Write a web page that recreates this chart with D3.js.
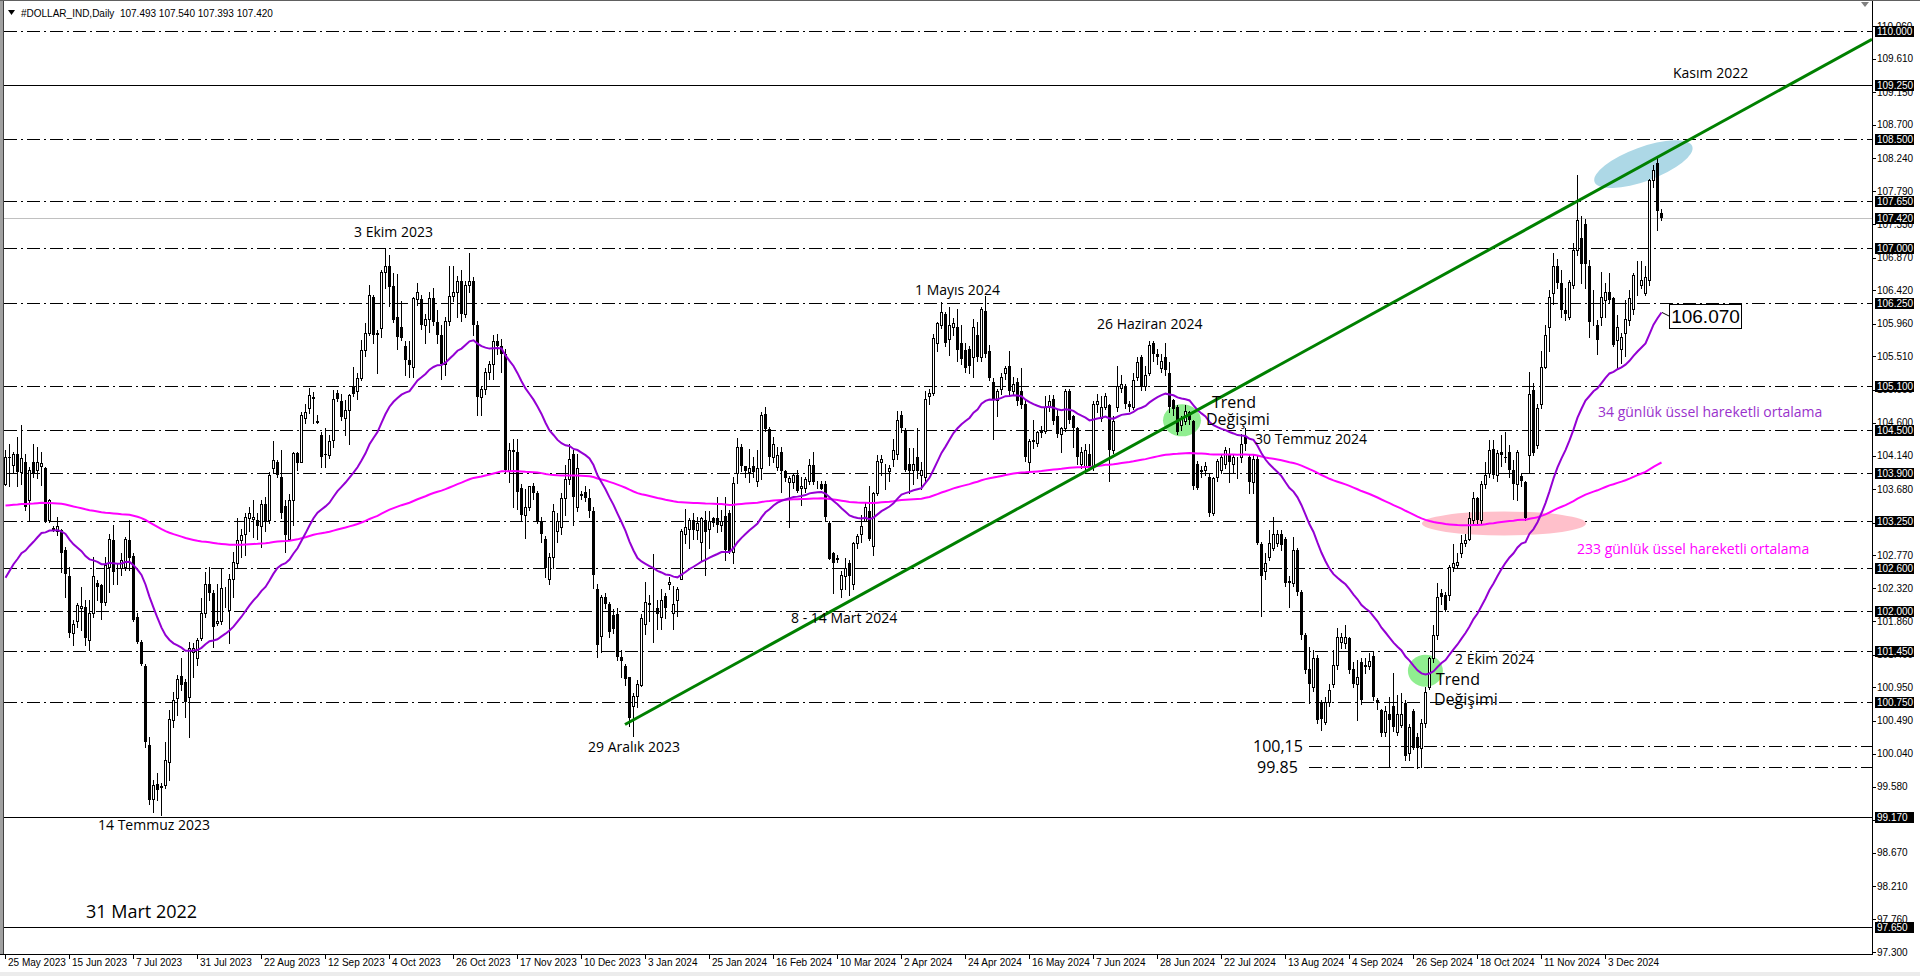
<!DOCTYPE html>
<html><head><meta charset="utf-8">
<script src="https://cdn.jsdelivr.net/npm/d3@7"></script>
<style>html,body{margin:0;padding:0;background:#fff;overflow:hidden}svg{display:block}</style>
</head><body>
<svg id="c" width="1920" height="976"></svg>
<script>
// ---------- DATA ----------
const headerText = "#DOLLAR_IND,Daily  107.493 107.540 107.393 107.420";
// daily candles [open, high, low, close], bar 0 = 24/25 May 2023 ... bar 414 = 23 Dec 2024
const ohlc = [
[103.76,104.22,103.74,104.13],[104.12,104.31,103.72,104.11],[104.02,104.20,103.92,104.17],[104.17,104.40,103.72,103.92],[103.92,104.57,103.76,104.11],
[104.06,104.17,103.39,103.44],[103.53,103.99,103.26,103.95],[104.06,104.31,103.85,103.90],[103.95,104.27,103.83,104.05],[104.00,104.20,103.74,104.04],
[103.97,103.99,103.23,103.23],[103.26,103.54,103.23,103.53],[103.13,103.18,103.10,103.15],[103.10,103.30,103.05,103.17],[103.12,103.14,102.54,102.80],
[102.84,102.89,102.20,102.52],[102.48,102.61,101.65,101.70],[101.70,101.88,101.53,101.83],[101.86,102.11,101.79,102.09],[102.04,102.34,101.74,102.07],
[102.06,102.15,101.53,101.63],[101.60,102.15,101.47,101.97],[101.97,102.75,101.92,102.48],[102.39,102.43,102.15,102.34],[102.36,102.38,101.90,102.11],
[102.13,102.75,102.09,102.64],[102.61,103.07,102.27,102.99],[102.98,103.19,102.38,102.54],[102.60,102.66,102.38,102.59],[102.59,102.80,102.50,102.70],
[102.61,103.03,102.57,102.99],[102.98,103.26,102.57,102.73],[102.76,102.80,101.86,101.88],[101.92,101.97,101.56,101.58],[101.58,101.60,101.26,101.28],
[101.25,101.28,100.13,100.20],[100.16,100.27,99.35,99.40],[99.42,99.67,99.24,99.60],[99.62,99.77,99.40,99.54],[99.58,99.63,99.19,99.59],
[99.60,100.20,99.56,99.95],[99.93,100.64,99.67,100.52],[100.50,100.89,100.41,100.78],[100.80,101.12,100.57,101.07],[101.11,101.35,100.91,100.98],
[101.03,101.07,100.55,100.75],[100.82,101.58,100.27,101.49],[101.44,101.56,101.10,101.49],[101.35,101.63,101.26,101.60],[101.63,102.18,101.60,101.97],
[101.97,102.54,101.92,102.38],[102.38,102.61,102.15,102.25],[102.25,102.29,101.51,101.79],[101.84,102.38,101.81,101.86],[101.86,102.59,101.83,102.32],
[102.30,102.34,102.06,102.31],[102.02,102.52,101.56,102.44],[102.45,102.82,102.20,102.68],[102.66,103.28,102.61,102.98],[102.98,103.14,102.75,103.05],
[103.07,103.35,102.77,103.30],[103.28,103.44,103.10,103.35],[103.27,103.53,103.03,103.30],[103.26,103.35,103.00,103.17],[103.17,103.53,102.89,103.48],
[103.48,103.58,103.10,103.23],[103.26,103.92,103.21,103.88],[103.97,104.34,103.90,104.09],[104.06,104.08,103.85,103.88],[103.85,104.22,103.28,103.35],
[103.45,103.53,102.82,103.05],[103.00,103.62,102.98,103.53],[103.53,104.20,103.19,104.18],[104.18,104.20,103.95,104.04],[104.06,104.75,104.06,104.70],
[104.66,104.86,104.59,104.75],[104.80,105.07,104.73,104.98],[104.95,105.02,104.59,104.93],[104.62,104.71,104.59,104.60],[104.43,104.47,103.99,104.13],
[104.17,104.52,103.99,104.15],[104.15,104.43,104.11,104.34],[104.36,105.05,104.27,104.93],[105.01,105.05,104.90,104.93],[104.89,105.00,104.64,104.68],
[104.66,104.91,104.43,104.77],[104.77,105.00,104.31,104.98],[105.09,105.37,104.96,105.00],[105.03,105.28,104.93,105.22],[105.21,105.74,105.19,105.60],
[105.60,105.97,105.51,105.83],[105.83,106.49,105.81,106.36],[106.33,106.36,105.69,105.81],[105.83,105.88,105.28,105.81],[105.90,106.70,105.78,106.68],
[106.68,107.00,106.45,106.75],[106.76,106.91,106.20,106.47],[106.48,106.66,105.99,106.01],[106.06,106.65,105.62,105.78],[105.92,106.27,105.74,105.76],
[105.65,105.72,105.26,105.46],[105.46,105.72,105.23,105.39],[105.37,106.33,105.23,106.31],[106.30,106.52,106.22,106.40],[106.30,106.36,105.89,105.94],
[105.94,106.10,105.70,106.02],[106.02,106.40,105.85,106.31],[106.31,106.45,105.95,105.98],[105.98,106.15,105.70,105.80],[105.80,105.95,105.20,105.40],
[105.40,106.05,105.25,106.00],[106.00,106.75,105.95,106.35],[106.35,106.75,106.28,106.40],[106.40,106.62,106.05,106.55],[106.55,106.70,106.00,106.10],
[106.10,106.55,106.05,106.50],[106.50,106.93,106.40,106.55],[106.55,106.60,105.80,105.95],[105.95,106.00,104.70,104.95],[104.95,105.10,104.70,105.06],
[105.06,105.35,105.00,105.30],[105.30,105.45,105.20,105.40],[105.40,105.80,105.20,105.72],[105.72,105.82,105.55,105.65],[105.65,105.75,105.30,105.55],
[105.55,105.62,103.90,103.94],[103.93,104.32,103.78,104.22],[104.22,104.37,103.43,104.20],[104.20,104.37,103.41,103.65],[103.70,103.75,103.24,103.33],
[103.33,103.68,103.01,103.43],[103.43,103.73,103.40,103.73],[103.73,103.77,103.55,103.63],[103.63,103.66,103.22,103.24],[103.24,103.30,102.95,103.06],
[102.99,103.04,102.47,102.60],[102.45,102.80,102.37,102.75],[102.75,103.48,102.60,103.38],[103.10,103.35,102.95,103.24],[103.16,103.63,103.07,103.56],
[103.56,104.02,103.33,103.82],[103.82,104.30,103.75,104.10],[104.17,104.22,103.19,103.58],[103.43,104.17,103.38,103.97],[103.60,103.66,103.55,103.61],
[103.65,103.73,103.52,103.56],[103.56,103.68,103.30,103.38],[103.38,103.43,102.32,102.50],[102.30,102.38,101.37,101.54],[101.66,102.23,101.44,102.20],
[102.20,102.25,102.05,102.10],[102.10,102.13,101.64,101.71],[101.95,102.03,101.70,101.76],[101.96,102.04,101.33,101.37],[101.37,101.47,101.10,101.32],
[101.24,101.27,100.98,101.07],[101.09,101.09,100.42,100.53],[100.70,100.88,100.28,100.83],[100.83,101.05,100.68,101.00],[100.98,101.96,100.97,101.91],
[101.82,102.40,101.68,102.13],[102.10,102.22,101.86,102.12],[102.10,102.79,101.57,102.10],[102.05,102.16,101.76,101.96],[101.92,102.30,101.76,102.16],
[102.21,102.25,101.91,102.04],[102.38,102.47,102.30,102.40],[101.98,102.35,101.76,102.10],[102.15,102.33,101.94,102.30],[102.45,103.14,102.45,103.11],
[103.07,103.41,102.94,103.16],[103.14,103.28,102.87,103.26],[103.26,103.36,102.99,103.12],[103.12,103.30,103.00,103.22],[102.96,103.30,102.71,103.28],
[103.26,103.38,102.50,103.09],[103.14,103.38,102.87,103.24],[103.29,103.30,103.17,103.21],[103.28,103.58,103.09,103.19],[103.19,103.40,103.10,103.25],
[103.31,103.58,102.70,102.84],[103.36,103.40,102.80,102.82],[102.81,103.85,102.67,103.77],[103.90,104.39,103.77,104.27],[104.27,104.30,103.93,104.00],
[104.00,104.00,103.85,103.93],[103.92,104.24,103.78,103.97],[104.00,104.12,103.85,103.92],[103.80,104.22,103.73,103.97],[103.98,104.74,103.82,104.71],
[104.72,104.82,104.48,104.51],[104.51,104.54,104.02,104.12],[104.12,104.40,104.05,104.30],[103.99,104.27,103.95,104.15],[104.20,104.27,103.65,103.93],
[103.93,103.95,103.80,103.83],[103.78,103.86,103.16,103.83],[103.78,103.90,103.70,103.88],[103.88,103.95,103.65,103.66],[103.70,103.85,103.47,103.72],
[103.70,103.85,103.65,103.82],[103.80,104.10,103.75,104.02],[104.02,104.20,103.75,103.78],[103.73,103.80,103.70,103.73],[103.76,103.80,103.68,103.68],
[103.76,103.80,103.24,103.30],[103.21,103.24,102.72,102.72],[102.80,102.82,102.25,102.66],[102.72,102.78,102.68,102.74],[102.30,102.55,102.20,102.50],
[102.48,102.74,102.30,102.59],[102.66,102.70,102.22,102.49],[102.38,102.96,102.30,102.94],[102.94,103.06,102.87,103.04],[103.06,103.33,102.95,103.18],
[103.24,103.51,103.24,103.43],[103.38,103.73,102.98,102.99],[102.90,103.65,102.77,103.63],[103.63,104.15,103.60,104.07],[104.05,104.15,103.88,104.10],
[103.93,104.03,103.68,103.93],[103.93,104.02,103.80,103.98],[104.10,104.37,104.00,104.22],[104.17,104.76,104.10,104.63],[104.71,104.76,104.47,104.52],
[104.50,104.52,103.93,103.95],[104.03,104.25,103.63,103.93],[103.95,104.25,103.75,104.03],[104.12,104.52,103.83,103.93],[103.88,104.05,103.68,103.95],
[103.85,105.03,103.80,104.93],[104.96,105.06,104.86,105.01],[105.01,105.82,104.98,105.77],[105.70,105.99,105.58,105.97],[105.94,106.26,105.90,106.12],
[106.09,106.12,105.65,105.70],[105.75,106.19,105.53,105.94],[105.92,106.04,105.80,105.97],[105.92,106.17,105.45,105.60],[105.70,105.95,105.40,105.48],
[105.60,105.70,105.30,105.35],[105.62,105.65,105.28,105.38],[105.50,106.02,105.23,105.92],[105.80,105.99,105.45,105.50],[105.50,106.19,105.45,106.17],
[106.14,106.34,105.50,105.55],[105.58,105.67,105.18,105.21],[105.16,105.21,104.37,104.91],[104.91,105.06,104.69,105.03],[105.06,105.28,105.00,105.23],
[105.28,105.38,105.20,105.35],[105.38,105.58,104.98,105.03],[105.03,105.23,104.98,105.13],[105.16,105.21,104.84,104.89],[105.03,105.35,104.80,104.84],
[104.86,104.91,104.07,104.12],[104.05,104.37,103.93,104.34],[104.34,104.64,104.25,104.36],[104.32,104.49,104.28,104.47],[104.47,104.55,104.40,104.49],
[104.49,104.96,104.45,104.81],[104.81,104.98,104.76,104.89],[104.93,104.98,104.58,104.62],[104.69,104.79,104.40,104.44],[104.44,104.54,104.20,104.52],
[104.52,105.06,104.48,105.03],[105.03,105.06,104.60,104.64],[104.69,104.71,104.27,104.52],[104.52,104.54,104.03,104.12],[104.03,104.27,103.98,104.20],
[104.00,104.30,103.95,104.22],[104.17,104.30,103.95,104.00],[104.00,104.89,103.95,104.86],[104.86,105.00,104.75,104.90],[104.66,104.96,104.62,104.81],
[104.81,105.01,104.78,104.96],[104.84,104.86,103.80,104.22],[104.22,104.69,104.18,104.62],[104.81,105.38,104.76,105.11],[105.08,105.25,105.02,105.13],
[105.11,105.13,104.80,104.86],[104.86,104.89,104.76,104.81],[104.81,105.28,104.78,105.18],[105.23,105.50,105.18,105.43],[105.50,105.53,105.05,105.11],
[105.11,105.38,105.05,105.25],[105.28,105.72,105.25,105.67],[105.70,105.72,105.45,105.55],[105.55,105.62,105.40,105.50],[105.35,105.55,105.30,105.45],
[105.50,105.70,105.25,105.33],[105.28,105.43,104.74,104.81],[104.91,104.93,104.70,104.79],[104.81,104.84,104.44,104.47],[104.57,104.69,104.50,104.66],
[104.62,104.84,104.58,104.76],[104.74,104.76,104.58,104.64],[104.62,104.64,103.68,103.73],[104.03,104.07,103.68,103.70],[103.93,104.00,103.85,103.95],
[103.95,104.05,103.88,104.00],[103.85,103.90,103.31,103.36],[103.36,103.85,103.33,103.83],[103.85,104.10,103.80,104.07],[103.95,104.17,103.90,104.12],
[104.03,104.27,103.98,104.22],[104.15,104.25,103.78,104.05],[104.03,104.17,103.90,104.12],[104.05,104.12,103.83,104.06],[104.12,104.44,104.05,104.30],
[104.40,104.52,104.22,104.30],[104.12,104.15,103.63,103.78],[103.78,104.15,103.63,104.10],[104.10,104.15,102.92,102.94],[102.92,102.95,101.93,102.48],
[102.55,102.80,102.45,102.66],[102.75,103.12,102.70,102.94],[102.87,103.30,102.85,103.07],[102.94,103.12,102.90,103.07],[103.07,103.12,102.85,102.91],
[103.00,103.02,102.35,102.39],[102.42,102.48,102.06,102.39],[102.39,103.02,102.35,102.84],[102.84,102.87,102.22,102.27],[102.27,102.29,101.62,101.67],
[101.67,101.70,101.15,101.19],[101.21,101.51,100.73,101.00],[100.96,101.47,100.90,101.35],[101.35,101.40,100.46,100.50],[100.73,100.78,100.36,100.52],
[100.48,100.82,100.45,100.75],[100.75,101.00,100.70,100.91],[101.00,101.47,100.95,101.26],[101.26,101.77,101.20,101.65],[101.58,101.70,101.50,101.65],
[101.56,101.81,101.50,101.65],[101.63,101.65,101.15,101.19],[101.21,101.30,100.95,101.00],[101.00,101.33,100.50,101.10],[101.30,101.35,100.72,100.78],
[101.24,101.35,101.15,101.26],[101.24,101.42,101.20,101.31],[101.38,101.44,100.78,100.82],[100.78,100.80,100.65,100.73],[100.64,100.66,100.28,100.32],
[100.34,100.69,100.28,100.62],[100.59,100.82,99.86,100.50],[100.69,101.15,100.35,100.41],[100.34,100.85,100.30,100.59],[100.43,100.87,100.40,100.59],
[100.73,100.78,99.95,100.00],[100.05,100.45,99.95,100.40],[100.62,100.65,100.10,100.11],[100.27,100.32,99.84,100.11],[100.11,100.52,99.86,100.46],
[100.46,100.96,100.40,100.89],[100.96,101.37,100.93,101.35],[101.35,101.81,101.30,101.67],[101.67,102.39,101.62,102.20],[102.25,102.30,102.10,102.20],
[102.22,102.27,102.00,102.02],[102.22,102.64,102.15,102.61],[102.61,102.93,102.55,102.66],[102.64,102.80,102.60,102.68],[102.80,103.05,102.75,102.94],
[102.94,103.07,102.90,102.98],[103.00,103.37,102.98,103.28],[103.26,103.65,103.22,103.56],[103.56,103.58,103.22,103.26],[103.26,103.79,103.22,103.76],
[103.76,104.06,103.70,103.88],[103.90,104.36,103.85,104.22],[104.24,104.36,103.83,103.88],[103.88,104.22,103.80,104.18],[104.20,104.43,104.00,104.15],
[104.13,104.47,104.05,104.11],[104.20,104.29,103.85,103.94],[103.94,104.08,103.55,103.76],[103.76,104.22,103.53,104.20],[103.86,103.90,103.72,103.80],
[103.78,103.80,103.26,103.28],[104.15,105.30,103.92,105.00],[105.05,105.14,104.15,104.18],[104.29,104.86,104.25,104.80],[104.86,105.58,104.80,105.37],
[105.37,105.94,105.35,105.80],[105.92,106.43,105.58,106.33],[106.38,106.93,106.24,106.75],[106.75,106.86,106.45,106.52],[106.52,106.70,106.06,106.15],
[106.15,106.45,106.01,106.10],[106.06,106.56,106.03,106.54],[106.50,107.07,106.45,106.98],[106.98,108.01,106.91,107.39],[107.14,107.44,106.52,106.79],
[107.34,107.41,106.45,106.79],[106.75,106.84,105.78,105.99],[106.10,106.43,105.95,106.10],[105.94,106.01,105.55,105.74],[106.06,106.68,105.95,106.33],
[106.29,106.52,106.06,106.40],[106.40,106.66,106.25,106.29],[106.31,106.33,105.65,105.67],[105.74,106.08,105.35,105.92],[105.62,105.83,105.42,105.78],
[105.83,106.29,105.51,106.03],[106.01,106.43,105.95,106.31],[106.17,106.66,106.10,106.63],[106.59,106.82,106.36,106.59],[106.50,106.82,106.45,106.56],
[106.38,106.75,106.36,106.61],[106.56,107.96,106.50,107.94],[107.94,108.15,107.85,108.08],[108.17,108.24,107.25,107.51],[107.493,107.540,107.393,107.420]
];
// moving-average settings (periods + starting values read at the left edge)
const emaPeriods = [34, 233];
const emaSeeds = [102.36, 103.45];
const emaColors = ["#9400D3", "#FF00FF"];

// x-axis ticks (bar index of each label)
const tickBars = [0,16,32,48,64,80,96,112,128,144,160,176,192,208,224,240,256,272,288,304,320,336,352,368,384,400];
const tickLabels = ["25 May 2023","15 Jun 2023","7 Jul 2023","31 Jul 2023","22 Aug 2023","12 Sep 2023","4 Oct 2023","26 Oct 2023","17 Nov 2023","10 Dec 2023","3 Jan 2024","25 Jan 2024","16 Feb 2024","10 Mar 2024","2 Apr 2024","24 Apr 2024","16 May 2024","7 Jun 2024","28 Jun 2024","22 Jul 2024","13 Aug 2024","4 Sep 2024","26 Sep 2024","18 Oct 2024","11 Nov 2024","3 Dec 2024"];
// price-scale labels
const gridPrices = [110.060,109.610,109.150,108.700,108.240,107.790,107.330,106.870,106.420,105.960,105.510,105.050,104.600,104.140,103.680,103.220,102.770,102.320,101.860,101.400,100.950,100.490,100.040,99.580,99.130,98.670,98.210,97.760,97.300];
const boxPrices = [110.000,109.250,108.500,107.650,107.420,107.000,106.250,105.100,104.500,103.900,103.250,102.600,102.000,101.450,100.750,99.170,97.650];
// horizontal levels
const dashDotLevels = [110.0,108.5,107.65,107.0,106.25,105.1,104.5,103.9,103.25,102.6,102.0,101.45,100.75];
const solidLevels = [109.25,99.17,97.65];
const bidLevel = 107.42;
const shortLevels = [100.15, 99.85];
const shortLevelStartBar = 326;
// trend line anchors
const trendBars = [155, 466.75];
const trendPrices = [100.44, 109.88];
// highlight ellipses [bar, price, rx, ry, angle, colour]
const ellipses = [
  [374.75, 103.21, 82, 12, 0, "#FFC0CB"],
  [409.6, 108.16, 52, 17, -20, "#ADD8E6"],
  [294.25, 104.63, 19, 16, 0, "#90EE90"],
  [355.1, 101.18, 17.5, 16, 0, "#90EE90"]
];
// annotations [text, bar, price, size, colour]
const notes = [
  ["Kasım 2022", 417.0, 109.42, 14, "#000"],
  ["3 Ekim 2023", 87.25, 107.22, 14, "#000"],
  ["1 Mayıs 2024", 227.5, 106.42, 14, "#000"],
  ["26 Haziran 2024", 273.0, 105.96, 14, "#000"],
  ["Trend", 301.75, 104.88, 16, "#000"],
  ["Değişimi", 300.25, 104.65, 16, "#000"],
  ["30 Temmuz 2024", 312.5, 104.37, 14, "#000"],
  ["8 - 14 Mart 2024", 196.5, 101.91, 14, "#000"],
  ["29 Aralık 2023", 145.75, 100.13, 14, "#000"],
  ["14 Temmuz 2023", 23.25, 99.05, 14, "#000"],
  ["31 Mart 2022", 20.25, 97.86, 18, "#000"],
  ["100,15", 312.0, 100.14, 16, "#000"],
  ["99.85", 313.0, 99.85, 16, "#000"],
  ["2 Ekim 2024", 362.5, 101.34, 14, "#000"],
  ["Trend", 357.75, 101.06, 16, "#000"],
  ["Değişimi", 357.25, 100.79, 16, "#000"],
  ["34 günlük üssel hareketli ortalama", 398.25, 104.75, 14, "#9932CC"],
  ["233 günlük üssel hareketli ortalama", 393.0, 102.86, 14, "#FF00FF"]
];
const emaLabel = "106.070";

// ---------- CHART ----------
const W = 1920, H = 976;
const plotL = 4, plotR = 1872, plotT = 1, plotB = 954;
const svg = d3.select("#c");
const x = d3.scaleLinear().domain([0, 414]).range([5, 1661]);
const y = d3.scaleLinear().domain([97.65, 110]).range([927, 30.6]);
const ry = p => Math.round(y(p)) + 0.5;

svg.append("rect").attr("width", W).attr("height", H).attr("fill", "#fff");
svg.append("defs").append("clipPath").attr("id", "clip")
  .append("rect").attr("x", plotL).attr("y", plotT).attr("width", plotR - plotL).attr("height", plotB - plotT);

// levels
const lv = svg.append("g").attr("shape-rendering", "crispEdges");
lv.selectAll(".dd").data(dashDotLevels).join("line")
  .attr("x1", plotL).attr("x2", plotR).attr("y1", ry).attr("y2", ry)
  .attr("stroke", "#000").attr("stroke-dasharray", "13,4,2,4");
lv.selectAll(".sd").data(solidLevels).join("line").attr("class", "sd")
  .attr("x1", plotL).attr("x2", plotR).attr("y1", ry).attr("y2", ry).attr("stroke", "#000");
lv.selectAll(".sh").data(shortLevels).join("line").attr("class", "sh")
  .attr("x1", x(shortLevelStartBar)).attr("x2", plotR).attr("y1", ry).attr("y2", ry)
  .attr("stroke", "#000").attr("stroke-dasharray", "13,4,2,4");
lv.append("line").attr("x1", plotL).attr("x2", plotR).attr("y1", ry(bidLevel)).attr("y2", ry(bidLevel)).attr("stroke", "#c0c0c0");

// ellipses
const eg = svg.append("g").attr("clip-path", "url(#clip)");
eg.selectAll("ellipse").data(ellipses).join("ellipse")
  .attr("transform", d => `translate(${x(d[0])},${y(d[1])}) rotate(${d[4]})`)
  .attr("rx", d => d[2]).attr("ry", d => d[3]).attr("fill", d => d[5]);

// candles
const cg = svg.append("g").attr("clip-path", "url(#clip)").attr("shape-rendering", "crispEdges");
const cx = i => Math.round(x(i));
cg.selectAll(".wick").data(ohlc).join("line").attr("class", "wick")
  .attr("x1", (d, i) => cx(i) + 0.5).attr("x2", (d, i) => cx(i) + 0.5)
  .attr("y1", d => Math.round(y(d[1]))).attr("y2", d => Math.round(y(d[2])) + 1)
  .attr("stroke", "#000");
cg.selectAll(".body").data(ohlc).join("rect").attr("class", "body")
  .each(function (d, i) {
    const top = Math.round(y(Math.max(d[0], d[3]))), bot = Math.round(y(Math.min(d[0], d[3])));
    const s = d3.select(this);
    if (d[3] >= d[0]) {
      s.attr("x", cx(i) - 1 + 0.5).attr("y", top + 0.5).attr("width", 2).attr("height", Math.max(bot - top, 0))
        .attr("fill", "#fff").attr("stroke", "#000");
    } else {
      s.attr("x", cx(i) - 1).attr("y", top).attr("width", 3).attr("height", Math.max(bot - top, 1)).attr("fill", "#000");
    }
  });

// EMAs from closes
const closes = ohlc.map(d => d[3]);
function ema(vals, period, seed) {
  const a = 2 / (period + 1); let e = seed;
  return vals.map(v => (e = e + a * (v - e)));
}
const lg = svg.append("g").attr("clip-path", "url(#clip)");
const emaSeries = emaPeriods.map((p, k) => ema(closes, p, emaSeeds[k]));
const lineGen = d3.line().x((d, i) => x(i) + 0.5).y(d => y(d));
emaSeries.slice().reverse().forEach((s, k) => {
  lg.append("path").attr("d", lineGen(s)).attr("fill", "none")
    .attr("stroke", emaColors[emaSeries.length - 1 - k]).attr("stroke-width", 2);
});

// trend line
lg.append("line").attr("x1", x(trendBars[0])).attr("y1", y(trendPrices[0]))
  .attr("x2", x(trendBars[1])).attr("y2", y(trendPrices[1]))
  .attr("stroke", "#008000").attr("stroke-width", 3);

// EMA value callout
const lastEma = emaSeries[0][emaSeries[0].length - 1];
const bx = 1669, byc = Math.round(y(+emaLabel));
svg.append("line").attr("x1", x(414) + 1).attr("y1", y(lastEma)).attr("x2", bx).attr("y2", byc).attr("stroke", "#000");
svg.append("rect").attr("x", bx + 0.5).attr("y", byc - 12 + 0.5).attr("width", 72).attr("height", 24)
  .attr("fill", "#fff").attr("stroke", "#000").attr("shape-rendering", "crispEdges");
svg.append("text").attr("x", bx + 36.5).attr("y", byc + 7).attr("text-anchor", "middle")
  .attr("font-family", "Liberation Sans, Arial, sans-serif").attr("font-size", 19).text(emaLabel);

// annotations
svg.append("g").selectAll("text").data(notes).join("text")
  .attr("x", d => x(d[1])).attr("y", d => y(d[2]) + d[3] * 0.36)
  .attr("font-family", "Open Sans, sans-serif").attr("font-size", d => d[3])
  .attr("fill", d => d[4]).text(d => d[0]);

// axes frame
const fr = svg.append("g").attr("shape-rendering", "crispEdges");
fr.append("line").attr("x1", plotR + 0.5).attr("x2", plotR + 0.5).attr("y1", 0).attr("y2", plotB + 1).attr("stroke", "#000");
fr.append("line").attr("x1", 0).attr("x2", plotR + 1).attr("y1", plotB + 0.5).attr("y2", plotB + 0.5).attr("stroke", "#000");
fr.append("rect").attr("x", 0).attr("y", 0).attr("width", 3).attr("height", plotB).attr("fill", "#a0a0a0");
fr.append("line").attr("x1", 3.5).attr("x2", 3.5).attr("y1", 0).attr("y2", plotB).attr("stroke", "#404040");
fr.append("line").attr("x1", 0).attr("x2", W).attr("y1", 0.5).attr("y2", 0.5).attr("stroke", "#606060");
fr.append("rect").attr("x", 0).attr("y", 972).attr("width", W).attr("height", 4).attr("fill", "#ececec");
svg.append("path").attr("d", "M1861,2 L1869,2 L1865,7 Z").attr("fill", "#808080");

// price scale
const ax = svg.append("g").attr("font-family", "Liberation Sans, Arial, sans-serif").attr("font-size", 10);
ax.selectAll(".gt").data(gridPrices).join("line").attr("class", "gt")
  .attr("x1", plotR + 1).attr("x2", plotR + 4).attr("y1", ry).attr("y2", ry).attr("stroke", "#000").attr("shape-rendering", "crispEdges");
ax.selectAll(".gl").data(gridPrices).join("text").attr("class", "gl")
  .attr("x", 1877).attr("y", p => y(p) + 3.5).attr("fill", "#000").text(p => p.toFixed(3));
ax.selectAll(".bb").data(boxPrices).join("rect").attr("class", "bb")
  .attr("x", 1875).attr("y", p => Math.round(y(p)) - 5).attr("width", 39).attr("height", 11).attr("fill", "#000");
ax.selectAll(".bl").data(boxPrices).join("text").attr("class", "bl")
  .attr("x", 1877).attr("y", p => Math.round(y(p)) + 4).attr("fill", "#fff").text(p => p.toFixed(3));

// time scale
const tx = svg.append("g").attr("font-family", "Liberation Sans, Arial, sans-serif").attr("font-size", 10);
tx.selectAll("line").data(tickBars).join("line")
  .attr("x1", b => cx(b) + 0.5).attr("x2", b => cx(b) + 0.5).attr("y1", plotB + 1).attr("y2", plotB + 5)
  .attr("stroke", "#000").attr("shape-rendering", "crispEdges");
tx.selectAll("text").data(tickBars).join("text")
  .attr("x", b => cx(b) + 3).attr("y", 966).attr("fill", "#000").text((b, k) => tickLabels[k]);

// header
svg.append("path").attr("d", "M8,10 L15,10 L11.5,15 Z").attr("fill", "#000");
svg.append("text").attr("x", 21).attr("y", 16.5).attr("font-family", "Liberation Sans, Arial, sans-serif")
  .attr("font-size", 10).attr("fill", "#000").style("white-space", "pre").text(headerText);
</script>
</body></html>
